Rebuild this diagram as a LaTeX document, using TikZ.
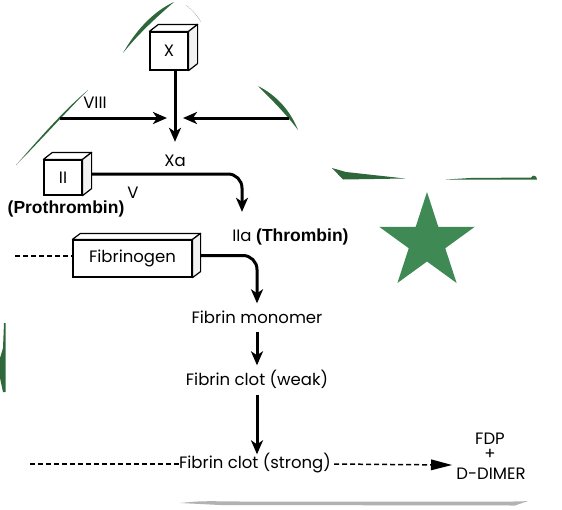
\documentclass[tikz,border=0pt]{standalone}
\usepackage{fontspec}
\setmainfont{Poppins}
\newfontfamily\arialf{Liberation Sans}
\usetikzlibrary{arrows.meta}
\definecolor{starc}{RGB}{63,137,85}
\definecolor{sliv}{RGB}{46,104,58}
\begin{document}
\begin{tikzpicture}[x=1pt,y=-1pt,
  lab/.style={font=\fontsize{16.5}{19}\selectfont, inner sep=0pt, text height=11.5pt, text depth=3.5pt},
  boldlab/.style={font=\arialf\bfseries\fontsize{17.5}{20}\selectfont, inner sep=0pt},
  face/.style={draw, line width=1.2pt, fill=white, inner sep=0pt, font=\fontsize{16.5}{19}\selectfont},
  cubeedge/.style={line width=1.2pt, line join=round},
  arr/.style={line width=3pt, -{Stealth[length=14pt,width=12pt,inset=4pt]}},
  dashln/.style={line width=1.5pt, dash pattern=on 5pt off 3pt},
  sliver/.style={fill=sliv}
]
\useasboundingbox (0,0) rectangle (562,509);

% decorative slivers
\fill[sliver] (123,53) .. controls (135,32) and (152,12) .. (174,2) .. controls (158,16) and (140,32) .. cycle;
\fill[sliver] (186,5) .. controls (192,10) and (197,15) .. (201,22) .. controls (196,14) and (191,9) .. cycle;
\fill[sliver] (16,165) .. controls (40,138) and (62,112) .. (88,90) .. controls (64,114) and (42,139) .. cycle;
\fill[sliver] (258,86) .. controls (276,95) and (290,110) .. (298,130) .. controls (286,114) and (272,100) .. cycle;
\fill[sliver] (332,168) -- (346,172) -- (405,178.5) -- (343,179.5) -- cycle;
\fill[sliver] (446,179.5) -- (470,178) -- (531,177.5) -- (533,175.5) -- (536,176.5) -- (537,179.5) -- cycle;
\fill[sliver] (4,323) -- (5.5,323) -- (5.5,392) -- (3,392) -- (0,378) -- (0,358) -- (3,348) -- cycle;

% star
\fill[starc] (427,192.0) -- (438.29,226.77) -- (474.84,226.76) -- (445.26,248.23) -- (456.57,282.99)
  -- (427,261.5) -- (397.43,282.99) -- (408.74,248.23) -- (379.16,226.76) -- (415.71,226.77) -- cycle;

% grey underline
\fill[gray!60] (180,503) .. controls (200,501) .. (240,501.5) -- (505,501.5) .. controls (520,501.5) .. (528,501) -- (515,505.5) -- (220,505) -- cycle;

% X cube
\node[face, minimum width=38pt, minimum height=38pt] (X) at (169,51) {X};
\draw[cubeedge, fill=white] (X.north west) -- ++(9,-7) -- ([shift={(9,-7)}]X.north east) -- (X.north east) -- cycle;
\draw[cubeedge, fill=gray!10] (X.north east) -- ([shift={(9,-7)}]X.north east) -- ([shift={(9,-7)}]X.south east) -- (X.south east) -- cycle;

\node[lab] (Xa) at (175,162) {Xa};
\node[lab] (VIII) at (95,104) {VIII};
\coordinate (j) at (175,118);
\coordinate (v8) at (60,118);
\coordinate (rt) at (289,118);
\draw[arr, shorten >=12.5pt] (X.south -| Xa) -- (Xa.north);
\draw[arr, shorten >=8pt] (v8) -- (j);
\draw[arr, shorten >=8pt] (rt) -- (j);

% II cube
\node[face, minimum width=38pt, minimum height=35pt] (II) at (63,177.5) {II};
\draw[cubeedge, fill=white] (II.north west) -- ++(9,-7) -- ([shift={(9,-7)}]II.north east) -- (II.north east) -- cycle;
\draw[cubeedge, fill=gray!10] (II.north east) -- ([shift={(9,-7)}]II.north east) -- ([shift={(9,-7)}]II.south east) -- (II.south east) -- cycle;
\node[lab] (V) at (133,194) {V};
\node[boldlab] (pro) at (66,209) {(Prothrombin)};

\node[lab] (IIa) at (242,237) {IIa};
\node[boldlab, anchor=west] (thr) at (256,237) {(Thrombin)};
\draw[arr, rounded corners=14pt, shorten >=17.5pt] ([shift={(9,-3.5)}]II.east) -| (IIa.north);

% Fibrinogen
\node[face, minimum width=119pt, minimum height=37pt] (Fg) at (132.5,258.5) {Fibrinogen};
\draw[cubeedge, fill=white] (Fg.north west) -- ++(8,-6) -- ([shift={(8,-6)}]Fg.north east) -- (Fg.north east) -- cycle;
\draw[cubeedge, fill=gray!10] (Fg.north east) -- ([shift={(8,-6)}]Fg.north east) -- ([shift={(8,-6)}]Fg.south east) -- (Fg.south east) -- cycle;
\coordinate (dl) at (15,256);
\draw[dashln] (dl) -- (dl -| Fg.west);

\node[lab] (mono) at (257,319) {Fibrin monomer};
\node[lab] (weak) at (257,381) {Fibrin clot (weak)};
\node[lab] (strong) at (255,464) {Fibrin clot (strong)};
\draw[arr, rounded corners=14pt, shorten >=8pt] ([shift={(8,-3)}]Fg.east) -| (mono.north);
\draw[arr, shorten <=5pt, shorten >=8pt] (mono.south) -- (weak.north);
\draw[arr, shorten <=6pt, shorten >=2pt] (weak.south) -- (weak.south |- strong.north);

\coordinate (bl) at (30,464);
\draw[dashln] (bl) -- (strong.west);
\coordinate (tipc) at (452,465);
\draw[line width=1.5pt, dash pattern=on 5pt off 3pt, shorten <=3pt, -{Triangle[length=21pt,width=11pt,line width=0pt]}] (strong.east) -- (tipc);

\node[lab] (fdp) at (490,440) {FDP};
\node[lab] (plus) at (490,455) {+};
\node[lab] (dd) at (491,475) {D-DIMER};
\end{tikzpicture}
\end{document}
